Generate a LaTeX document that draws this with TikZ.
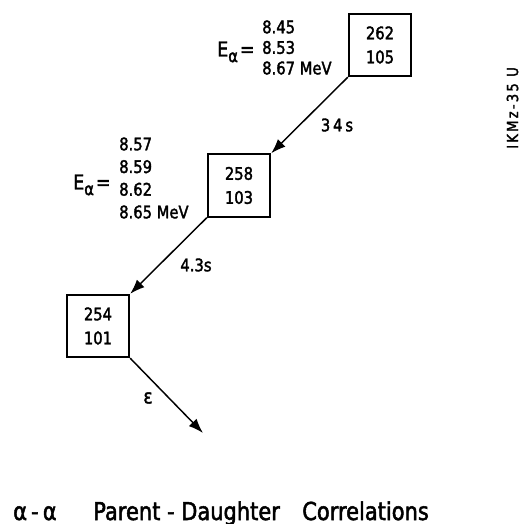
\documentclass[tikz,border=0pt]{standalone}
\usepackage{fontspec}
\setmainfont{DejaVu Sans}[FakeStretch=0.85, FakeBold=2]
\usetikzlibrary{arrows.meta}
\begin{document}
\begin{tikzpicture}[x=0.75pt,y=-0.75pt,
  nuc/.style={draw, line width=1.3pt, minimum width=47pt, minimum height=47pt, inner sep=0pt, align=center, font=\fontsize{13}{18}\selectfont},
  decay/.style={line width=1.1pt, -{Latex[length=11pt,width=8pt]}},
  lbl/.style={font=\fontsize{13}{16}\selectfont, inner sep=0pt},
  eal/.style={anchor=base west, inner sep=0pt, font=\fontsize{15.4}{18}\selectfont},
  vals/.style={anchor=west, inner sep=0pt, align=left},
  ttl/.style={anchor=base west, inner sep=0pt, font=\fontsize{18.5}{22}\selectfont}]
\useasboundingbox (0,0) rectangle (525,524);
\node[nuc] (p) at (380,45) {262\\105};
\node[nuc] (d) at (239,185.5) {258\\103};
\node[nuc] (g) at (98,326) {254\\101};
\coordinate (e) at (203,433);
\draw[decay] (p.south west) -- (d.north east);
\draw[decay] (d.south west) -- (g.north east);
\draw[decay] (g.south east) -- (e);
\node[lbl] (t1) at (337,125) {3\,4\,s};
\node[lbl] (t2) at (196,265) {4.3s};
\node[lbl,font=\fontsize{15}{18}\selectfont] (eps) at (148,398) {ε};
\node[eal] (ea1) at (217,56.5) {E\raisebox{-0.5ex}{\fontsize{13}{14}\selectfont α}\kern1.5pt=};
\node[vals,font=\fontsize{13}{15.4}\selectfont] (v1) at (262,47.5) {8.45\\8.53\\8.67 MeV};
\node[eal] (ea2) at (73,189.5) {E\raisebox{-0.5ex}{\fontsize{13}{14}\selectfont α}\kern1.5pt=};
\node[vals,font=\fontsize{13}{17}\selectfont] (v2) at (119,178) {8.57\\8.59\\8.62\\8.65 MeV};
\node[rotate=90, inner sep=0pt, font=\fontsize{11.5}{13}\selectfont\addfontfeature{LetterSpace=15}] (id) at (512.5,108) {IKMz-35 U};
\node[ttl] (ti1) at (13,520) {α\,-\,α};
\node[ttl] (ti2) at (93,520) {Parent - Daughter};
\node[ttl] (ti3) at (302,520) {Correlations};
\end{tikzpicture}
\end{document}
